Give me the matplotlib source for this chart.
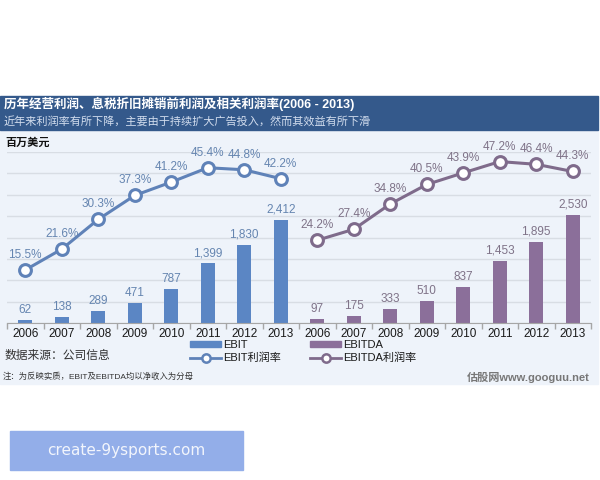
import numpy as np
import matplotlib
matplotlib.use('Agg')
import matplotlib.pyplot as plt
from matplotlib.patches import Rectangle
from matplotlib.lines import Line2D

years = ['2006', '2007', '2008', '2009', '2010', '2011', '2012', '2013']
ebit = [62, 138, 289, 471, 787, 1399, 1830, 2412]
ebitda = [97, 175, 333, 510, 837, 1453, 1895, 2530]
ebit_margin = [15.5, 21.6, 30.3, 37.3, 41.2, 45.4, 44.8, 42.2]
ebitda_margin = [24.2, 27.4, 34.8, 40.5, 43.9, 47.2, 46.4, 44.3]

title = '历年经营利润、息税折旧摊销前利润及相关利润率(2006 - 2013)'
subtitle = '近年来利润率有所下降，主要由于持续扩大广告投入，然而其效益有所下滑'
unit = '百万美元'
source = '数据来源：公司信息'
note = '注：为反映实质，EBIT及EBITDA均以净收入为分母'
brand = '估股网www.googuu.net'
legend_labels = ['EBIT', 'EBIT利润率', 'EBITDA', 'EBITDA利润率']
watermark = 'create-9ysports.com'

plt.rcParams['font.family'] = ['Liberation Sans', 'Noto Sans CJK SC', 'DejaVu Sans']

C_EBIT_BAR = '#5B86C4'
C_EBIT_LINE = '#5F82B8'
C_EBIT_TXT = '#6585B0'
C_DA_BAR = '#8B6F9A'
C_DA_LINE = '#7F6B8B'
C_DA_TXT = '#7F7388'

W, H = 600, 480
fig = plt.figure(figsize=(6, 4.8), dpi=100)
fig.patch.set_facecolor('white')


def fx(px):
    return px / W


def fy(py):
    return 1 - py / H


# background panels
fig.patches.append(Rectangle((0, fy(384)), fx(598), (384 - 130) / H,
                             transform=fig.transFigure, color='#EEF3FA', zorder=-10))
fig.patches.append(Rectangle((0, fy(130)), fx(598), (130 - 96) / H,
                             transform=fig.transFigure, color='#34598B', zorder=-10))
fig.patches.append(Rectangle((fx(10), fy(470)), fx(233), (470 - 431) / H,
                             transform=fig.transFigure, color='#93AEE9', zorder=-10))

fig.text(fx(4), fy(104), title, color='white', fontsize=9, fontweight='bold',
         va='center', ha='left')
fig.text(fx(4), fy(121), subtitle, color='#D2DDEE', fontsize=8,
         va='center', ha='left')
fig.text(fx(5), fy(143), unit, color='#111111', fontsize=8, fontweight='bold',
         va='center', ha='left')
fig.text(fx(5), fy(356), source, color='#333333', fontsize=8.5,
         va='center', ha='left')
fig.text(fx(3), fy(377), note, color='#333333', fontsize=6,
         va='center', ha='left')
fig.text(fx(590), fy(377), brand, color='#777777', fontsize=8, fontweight='bold',
         va='center', ha='right')
fig.text(fx(126), fy(451), watermark, color='#F2F5FC', fontsize=11,
         va='center', ha='center', family=['DejaVu Sans'])

ax = fig.add_axes([fx(7), fy(323), fx(584), (323 - 152) / H])
ax.set_facecolor('none')

n = len(years)
x1 = np.arange(n)
x2 = np.arange(n, 2 * n)

ax.bar(x1, ebit, width=0.39, color=C_EBIT_BAR, zorder=2)
ax.bar(x2, ebitda, width=0.39, color=C_DA_BAR, zorder=2)
for x, v in zip(x1, ebit):
    ax.annotate(f'{v:,}', (x, v), xytext=(0, 4), textcoords='offset pixels',
                ha='center', va='bottom', fontsize=8.5, color=C_EBIT_TXT)
for x, v in zip(x2, ebitda):
    ax.annotate(f'{v:,}', (x, v), xytext=(0, 4), textcoords='offset pixels',
                ha='center', va='bottom', fontsize=8.5, color=C_DA_TXT)

ax.set_xlim(-0.5, 2 * n - 0.5)
ax.set_ylim(0, 4000)
ax.set_yticks(np.arange(0, 4001, 500))
ax.yaxis.grid(True, color='#D8DDE4', lw=1)
ax.set_axisbelow(True)
ax.tick_params(axis='y', length=0, labelleft=False)
ax.set_xticks(np.arange(2 * n))
ax.set_xticklabels(years + years)
ax.set_xticks(np.arange(-0.5, 2 * n, 1), minor=True)
ax.tick_params(axis='x', which='major', length=0, pad=3.5, labelsize=8.5, labelcolor='#1A1A1A')
ax.tick_params(axis='x', which='minor', length=4, color='#A6A6A6', width=1)
for s in ['top', 'left', 'right']:
    ax.spines[s].set_visible(False)
ax.spines['bottom'].set_color('#A6A6A6')

ax2 = ax.twinx()
ax2.set_ylim(0, 50)
ax2.set_yticks([])
for s in ax2.spines.values():
    s.set_visible(False)
ax2.plot(x1, ebit_margin, color=C_EBIT_LINE, lw=2.2, marker='o', ms=8.5,
         mfc='white', mec=C_EBIT_LINE, mew=2.2, zorder=3)
ax2.plot(x2, ebitda_margin, color=C_DA_LINE, lw=2.2, marker='o', ms=8.5,
         mfc='white', mec=C_DA_LINE, mew=2.2, zorder=3)
for x, v in zip(x1, ebit_margin):
    ax2.annotate(f'{v:.1f}%', (x, v), xytext=(0, 15), textcoords='offset pixels',
                 ha='center', va='center', fontsize=8.5, color=C_EBIT_TXT,
                 annotation_clip=False)
for x, v in zip(x2, ebitda_margin):
    ax2.annotate(f'{v:.1f}%', (x, v), xytext=(0, 15), textcoords='offset pixels',
                 ha='center', va='center', fontsize=8.5, color=C_DA_TXT,
                 annotation_clip=False)

handles = [
    Rectangle((0, 0), 1, 1, color=C_EBIT_BAR),
    Line2D([], [], color=C_EBIT_LINE, lw=2, marker='o', ms=6, mfc='white',
           mec=C_EBIT_LINE, mew=1.8),
    Rectangle((0, 0), 1, 1, color=C_DA_BAR),
    Line2D([], [], color=C_DA_LINE, lw=2, marker='o', ms=6, mfc='white',
           mec=C_DA_LINE, mew=1.8),
]
leg = fig.legend(handles, legend_labels, ncol=2, loc='upper left',
                 bbox_to_anchor=(fx(190), fy(340)), frameon=False, fontsize=8,
                 handlelength=2.8, handleheight=0.5, handletextpad=0.2,
                 columnspacing=2.6, labelspacing=0.25, borderpad=0,
                 borderaxespad=0)
for t in leg.get_texts():
    t.set_color('#1A1A1A')

fig.savefig('out.png', dpi=100)
